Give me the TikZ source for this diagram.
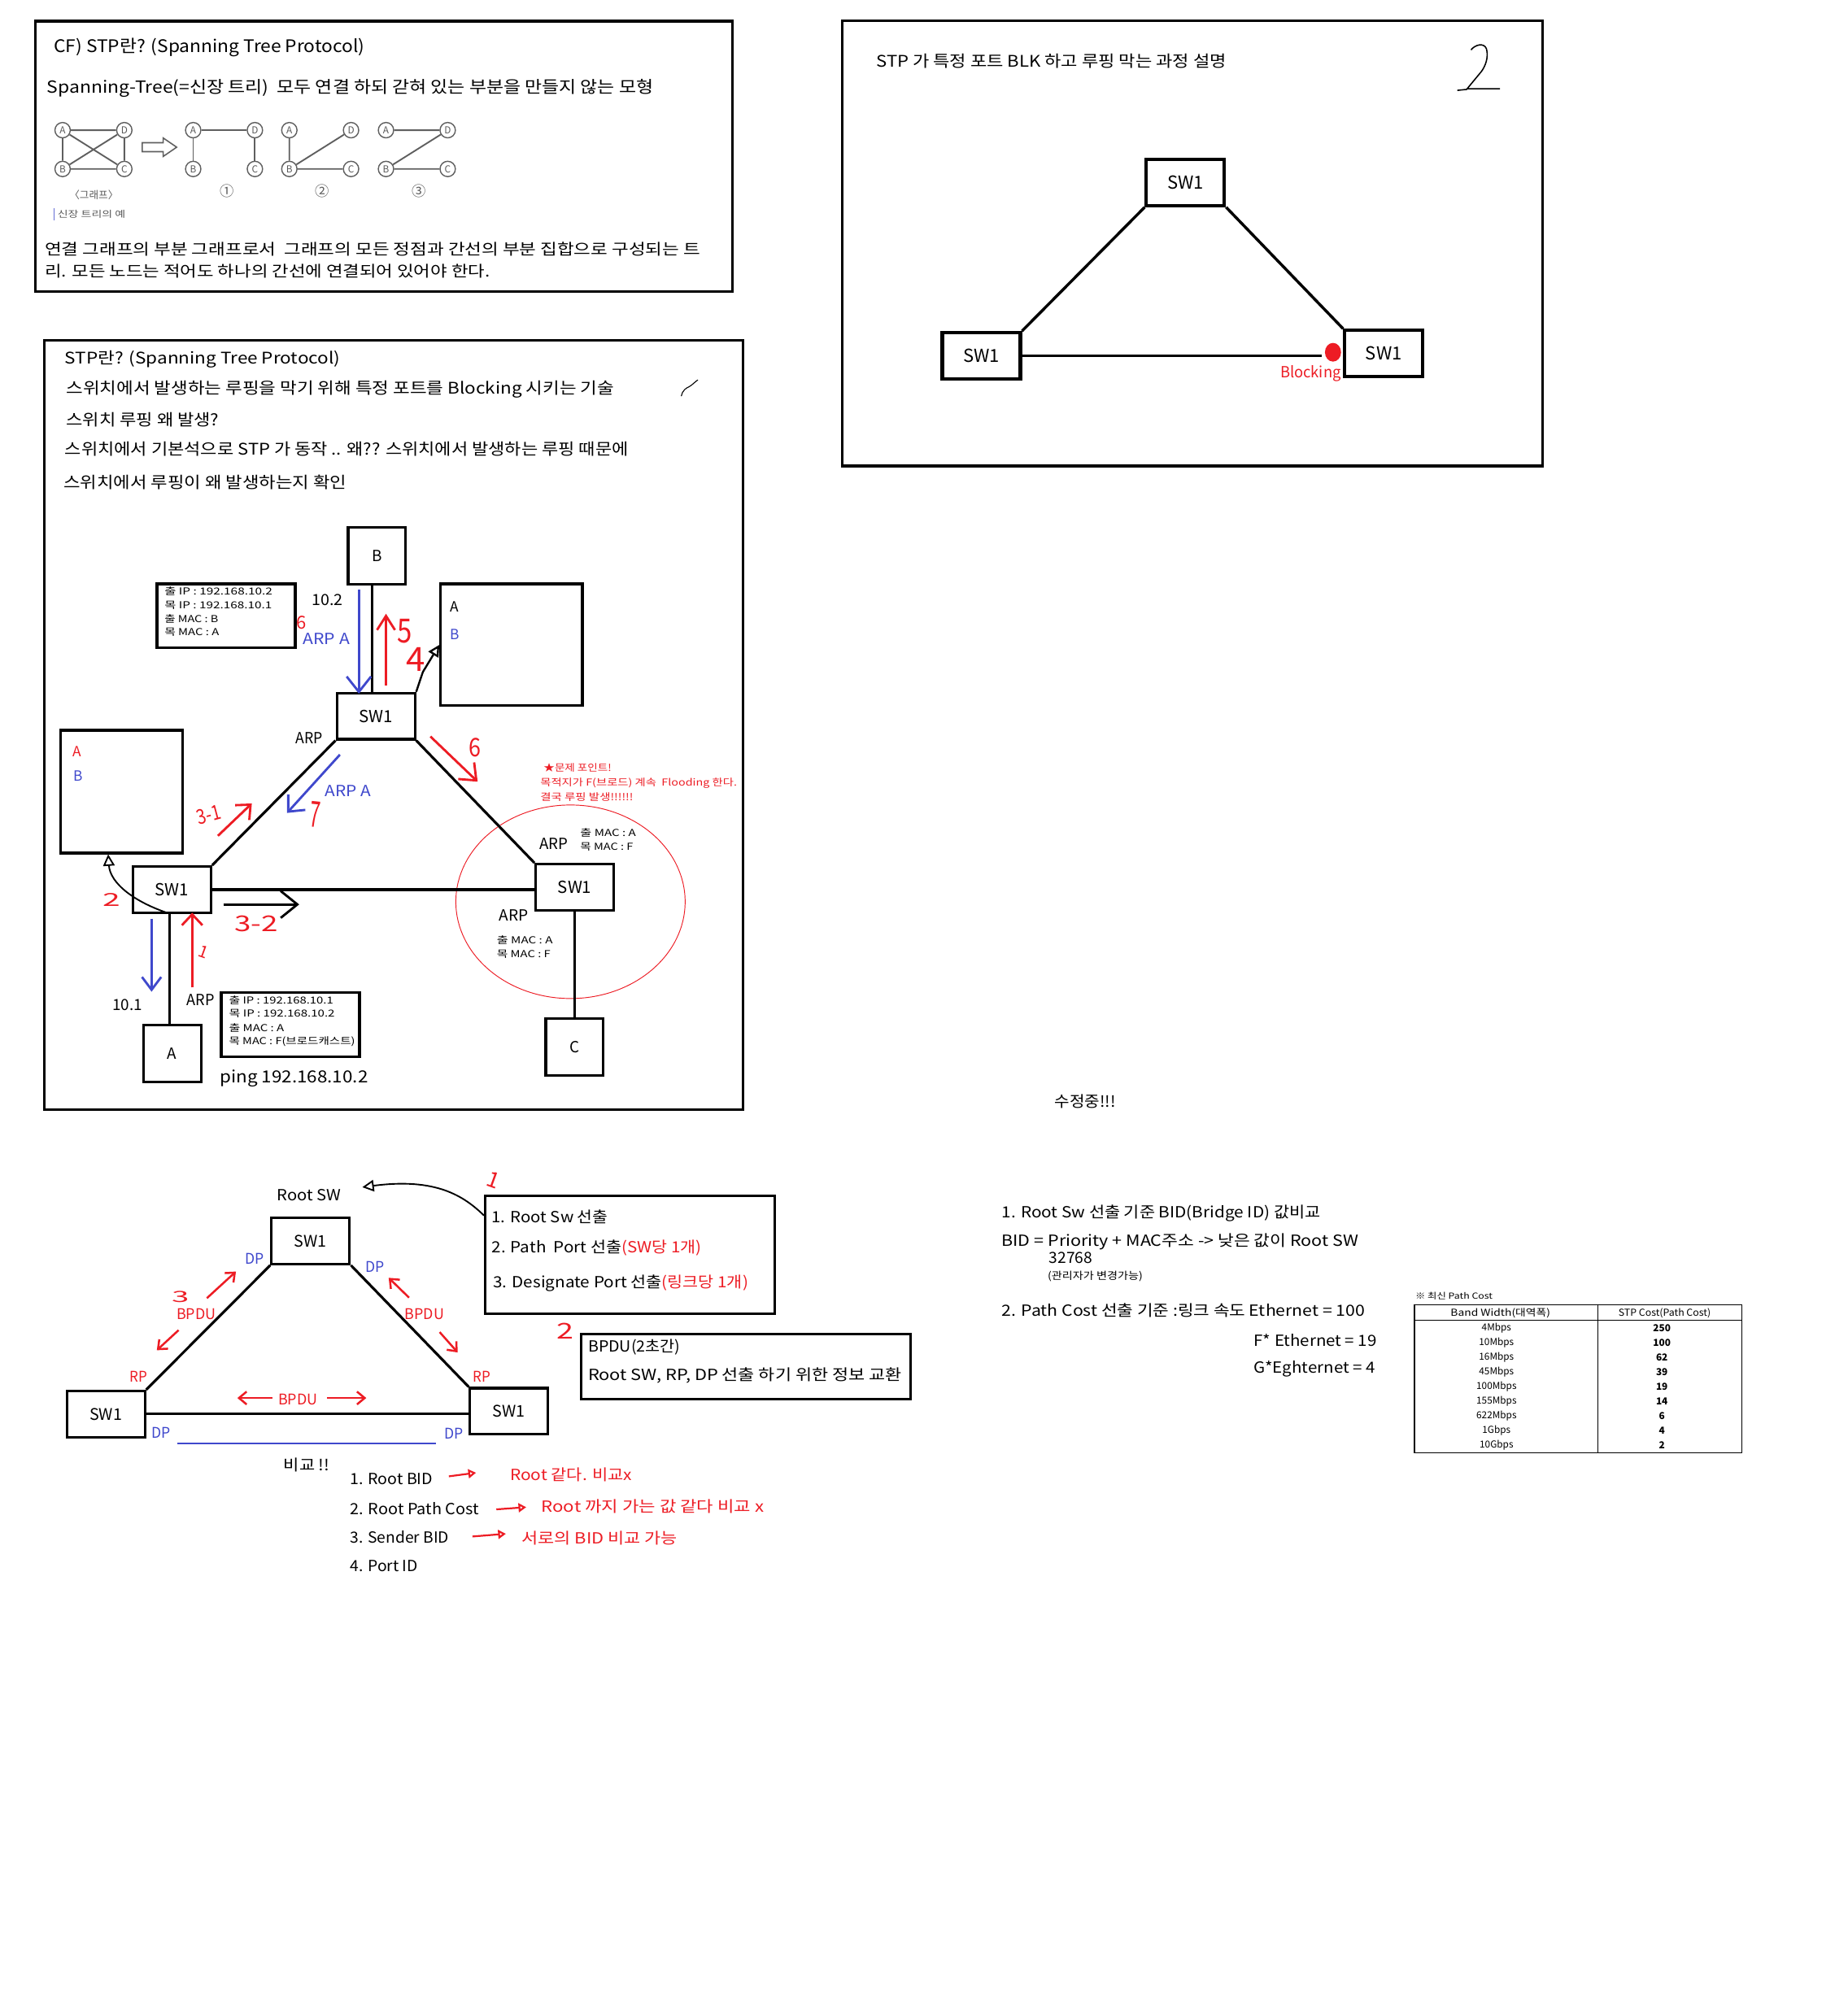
\documentclass[tikz,border=0pt]{standalone}
\usepackage{fontspec}
\setmainfont{Noto Sans CJK KR}
\usepackage{graphicx}
\usetikzlibrary{arrows.meta,shapes.geometric,calc}
\definecolor{myred}{RGB}{237,28,36}
\definecolor{myblue}{RGB}{63,72,204}
\definecolor{gline}{RGB}{95,95,95}
\definecolor{gtext}{RGB}{90,90,90}
\newcommand{\fs}[1]{\fontsize{#1}{#1}\selectfont}
\newcommand{\fw}[2]{\resizebox{#1pt}{\height}{#2}}
\begin{document}
\begin{tikzpicture}[x=1pt,y=-1pt,
  tx/.style={inner sep=0pt,anchor=west},
  ct/.style={inner sep=0pt,anchor=center},
  box/.style={draw,line width=2pt,inner sep=0pt},
  swa/.style={draw,line width=2.6pt,inner sep=0pt,minimum width=61pt,minimum height=36pt,font=\fs{14}},
  swc/.style={draw,line width=2pt,inner sep=0pt,minimum width=61pt,minimum height=36pt,font=\fs{13}},
  swd/.style={draw,line width=2pt,inner sep=0pt,minimum width=61pt,minimum height=36pt,font=\fs{12.5}},
  link/.style={line width=2pt},
  gnode/.style={circle,draw=gline,line width=0.9pt,fill=white,inner sep=0pt,minimum size=12pt,font=\fs{7.5},text=gtext},
  gedge/.style={gline,line width=1.2pt},
  rarr/.style={myred,line width=1.6pt,-{Straight Barb[length=6pt,width=10pt]}},
  barr/.style={myblue,line width=1.8pt,-{Straight Barb[length=10pt,width=17pt]}},
  harr/.style={line width=1.2pt,-{Triangle[open,length=9pt,width=9pt]}},
  tarr/.style={myred,line width=1.4pt,-{Triangle[open,length=6pt,width=7pt]}},
  rnum/.style={inner sep=0pt,anchor=center,text=myred},
]
\fill[white] (0,0) rectangle (1443,1568);
\useasboundingbox (0,0) rectangle (1443,1568);

% ================= Box 1 =================
\node[box,minimum width=544.4pt,minimum height=211pt] (f1) at (300.1,122) {};
\node[tx,font=\fs{13.5}] (t1) at (41.9,37.1) {\fw{242.8}{CF) STP란? (Spanning Tree Protocol)}};
\node[tx,font=\fs{13}] (t2) at (36.6,68.9) {\fw{473.5}{Spanning-Tree(=신장 트리)~~모두 연결 하되 갇혀 있는 부분을 만들지 않는 모형}};
\node[tx,font=\fs{12}] (t3) at (34.9,194.9) {\fw{511.9}{연결 그래프의 부분 그래프로서~~그래프의 모든 정점과 간선의 부분 집합으로 구성되는 트}};
\node[tx,font=\fs{12}] (t4) at (34.9,211.9) {\fw{347.6}{리. 모든 노드는 적어도 하나의 간선에 연결되어 있어야 한다.}};

\foreach \gx/\gi in {48.9/0,150.9/1,226/2,301.5/3}{
  \node[gnode] (gA\gi) at (\gx,101.7) {A};
  \node[gnode] (gD\gi) at (\gx+48.2,101.7) {D};
  \node[gnode] (gB\gi) at (\gx,132) {B};
  \node[gnode] (gC\gi) at (\gx+48.2,132) {C};
}
\draw[gedge] (gA0)--(gD0) (gB0)--(gC0) (gA0)--(gB0) (gD0)--(gC0) (gA0)--(gC0) (gB0)--(gD0);
\draw[gedge] (gA1)--(gD1) (gA1)--(gB1) (gD1)--(gC1);
\draw[gedge] (gA2)--(gB2) (gB2)--(gD2) (gB2)--(gC2);
\draw[gedge] (gA3)--(gD3) (gB3)--(gD3) (gB3)--(gC3);
\draw[gline,line width=1pt] (111.1,111.5) -- (127.5,111.5) -- (127.5,107.8) -- (138,115) -- (127.5,122.2) -- (127.5,118.5) -- (111.1,118.5) -- cycle;
\node[ct,font=\fs{8},text=gtext] (gl0) at (73.3,152.5) {〈그래프〉};
\node[ct,font=\fs{11},text=gtext] (gl1) at (177.5,149.4) {①};
\node[ct,font=\fs{11},text=gtext] (gl2) at (251.5,149.4) {②};
\node[ct,font=\fs{11},text=gtext] (gl3) at (327.3,149.4) {③};
\draw[myblue!80,line width=1pt] (42.3,162.8) -- (42.3,172);
\node[tx,font=\fs{7},text=gtext] (gl4) at (44.8,167.4) {\fw{53}{신장 트리의 예}};

% ================= Box 2 =================
\node[box,minimum width=547pt,minimum height=348pt] (f2) at (931.5,190) {};
\node[tx,font=\fs{12.5}] (t5) at (684.3,47.5) {\fw{273.5}{STP 가 특정 포트 BLK 하고 루핑 막는 과정 설명}};
\draw[line width=1pt] (1149,39) .. controls (1152,35) and (1159,33) .. (1161,38) .. controls (1163,45) and (1160,52) .. (1157,56) -- (1146,69.3) -- (1171.6,69.3);
\draw[line width=1pt] (1138.3,70.6) -- (1146,69.8);
\node[swa] (s2t) at (925.9,142.6) {SW1};
\node[swa] (s2l) at (766.5,277.9) {SW1};
\node[swa] (s2r) at (1080.9,276.1) {SW1};
\node[fill=myred,ellipse,minimum width=12.6pt,minimum height=14.6pt,inner sep=0pt] (dot) at (1041.2,275.2) {};
\draw[line width=2.2pt] (s2t.south west) -- (s2l.north east);
\draw[line width=2.2pt] (s2t.south east) -- (s2r.north west);
\draw[line width=2.2pt] (s2l.east) -- ([xshift=-2pt]s2l.east -| dot.west);
\node[tx,font=\fs{12},text=myred] (t6) at (999.8,292) {\fw{47.4}{Blocking}};

% ================= Box 3 =================
\node[box,minimum width=545.3pt,minimum height=600.9pt] (f3) at (307.45,566.45) {};
\node[tx,font=\fs{12.5}] (t7) at (50.6,281) {\fw{215}{STP란? (Spanning Tree Protocol)}};
\node[tx,font=\fs{12.5}] (t8) at (51.5,304) {\fw{428}{스위치에서 발생하는 루핑을 막기 위해 특정 포트를 Blocking 시키는 기술}};
\node[tx,font=\fs{12.5}] (t9) at (51.5,328) {\fw{119.5}{스위치 루핑 왜 발생?}};
\node[tx,font=\fs{12.5}] (t10) at (50.6,351) {\fw{440}{스위치에서 기본석으로 STP 가 동작 .. 왜?? 스위치에서 발생하는 루핑 때문에}};
\node[tx,font=\fs{12.5}] (t11) at (49.5,377) {\fw{221}{스위치에서 루핑이 왜 발생하는지 확인}};
\draw[line width=0.7pt] (532.1,309.5) .. controls (533,305) and (536,303) .. (538.5,302) .. controls (541,300.5) and (542,299) .. (545.1,296.8);

\node[draw=myred,ellipse,line width=0.6pt,minimum width=179.1pt,minimum height=151.2pt,inner sep=0pt] (ell) at (445.6,704.5) {};

\node[box,minimum width=45pt,minimum height=44.5pt,font=\fs{12}] (bB) at (294.4,434) {B};
\node[swc] (s3t) at (293.6,559.5) {SW1};
\node[box,minimum width=110.7pt,minimum height=95.2pt] (ab1) at (399.5,503.8) {};
\node[box,minimum width=95.2pt,minimum height=95.9pt] (ab2) at (95.1,618.5) {};
\node[swc] (s3l) at (134.2,695) {SW1};
\node[swc] (s3r) at (448.9,693.1) {SW1};
\node[box,minimum width=45pt,minimum height=44.4pt,font=\fs{12}] (bA) at (134.5,823.1) {A};
\node[box,minimum width=45pt,minimum height=44.4pt,font=\fs{12}] (bC) at (448.8,818.2) {C};
\node[box,minimum width=108pt,minimum height=49.7pt] (inf1) at (176.6,481) {};
\node[box,minimum width=108pt,minimum height=50.2pt] (inf2) at (226.8,800.5) {};

\draw[link] ([xshift=-3.5pt]bB.south) -- ([xshift=-3.5pt]bB.south |- s3t.north);
\draw[link] (s3t.south west) -- (s3l.north east);
\draw[link] (s3t.south east) -- (s3r.north west);
\draw[link] (s3l.east) -- (s3l.east -| s3r.west);
\draw[link] ([xshift=-1.5pt]s3l.south) -- ([xshift=-1.5pt]s3l.south |- bA.north);
\draw[link] (s3r.south) -- (s3r.south |- bC.north);
\draw[harr,line width=1.5pt] (s3t.north east) -- (330.3,525) -- (ab1.west);
\draw[harr] ([xshift=-1pt]s3l.south) .. controls (105,705) and (86,690) .. ([xshift=-10.6pt]ab2.south);

% info boxes
\node[tx,font=\fs{7.5}] (i11) at (128.3,461.9) {\fw{84.3}{출 IP : 192.168.10.2}};
\node[tx,font=\fs{7.5}] (i12) at (128.3,473) {\fw{83.9}{목 IP : 192.168.10.1}};
\node[tx,font=\fs{7.5}] (i13) at (128.3,483.3) {\fw{42}{출 MAC : B}};
\node[tx,font=\fs{7.5}] (i14) at (128.3,493.9) {\fw{42.6}{목 MAC : A}};
\node[tx,font=\fs{7.5}] (i21) at (178.7,781.2) {\fw{81.5}{출 IP : 192.168.10.1}};
\node[tx,font=\fs{7.5}] (i22) at (178.7,791.8) {\fw{82.6}{목 IP : 192.168.10.2}};
\node[tx,font=\fs{7.5}] (i23) at (178.7,802.9) {\fw{43}{출 MAC : A}};
\node[tx,font=\fs{7.5}] (i24) at (178.7,813.6) {\fw{98.5}{목 MAC : F(브로드캐스트)}};

% labels in box 3
\node[tx,font=\fs{12}] (l1) at (243.3,468.9) {\fw{24.3}{10.2}};
\node[tx,font=\fs{12},text=myblue] (l2) at (236.5,499) {\fw{36.4}{ARP A}};
\node[tx,font=\fs{12}] (l3) at (230.6,576.9) {\fw{21.1}{ARP}};
\node[tx,font=\fs{12},text=myblue] (l4) at (253.9,618.1) {\fw{35.9}{ARP A}};
\node[ct,font=\fs{11}] (l5) at (355.1,473.8) {A};
\node[ct,font=\fs{11},text=myblue] (l6) at (355.3,495.8) {B};
\node[ct,font=\fs{11},text=myred] (l7) at (60.2,587.4) {A};
\node[ct,font=\fs{11},text=myblue] (l8) at (60.8,606.5) {B};
\node[tx,font=\fs{7.5},text=myred] (l9) at (424.5,600.1) {\fw{52.9}{★문제 포인트!}};
\node[tx,font=\fs{7.5},text=myred] (l10) at (421.9,611.8) {\fw{153.5}{목적지가 F(브로드) 계속~~Flooding 한다.}};
\node[tx,font=\fs{7.5},text=myred] (l11) at (421.9,622.4) {\fw{72.5}{결국 루핑 발생!!!!!!}};
\node[tx,font=\fs{12}] (l12) at (421.3,659.4) {\fw{22.3}{ARP}};
\node[tx,font=\fs{7.5}] (l13) at (453.1,650.6) {\fw{43.4}{출 MAC : A}};
\node[tx,font=\fs{7.5}] (l14) at (453.1,661.6) {\fw{41.3}{목 MAC : F}};
\node[tx,font=\fs{12}] (l15) at (389.6,715) {\fw{22.8}{ARP}};
\node[tx,font=\fs{7.5}] (l16) at (387.9,734.2) {\fw{43.6}{출 MAC : A}};
\node[tx,font=\fs{7.5}] (l17) at (387.9,745.2) {\fw{41.9}{목 MAC : F}};
\node[tx,font=\fs{12}] (l18) at (87.7,785.4) {\fw{23.3}{10.1}};
\node[tx,font=\fs{12}] (l19) at (145.9,781.2) {\fw{21.6}{ARP}};
\node[tx,font=\fs{13}] (l20) at (171.7,842.6) {\fw{115.6}{ping 192.168.10.2}};

% red numbers
\node[rnum,font=\fs{14}] (n6a) at (235.5,486.3) {6};
\node[rnum,font=\fs{26}] (n5) at (316,493) {\fw{11.6}{5}};
\node[rnum,font=\fs{26}] (n4) at (325,515) {\fw{14.8}{4}};
\node[rnum,font=\fs{28},rotate=-6] (n7) at (246,636.6) {\fw{8}{7}};
\node[rnum,font=\fs{16},rotate=15] (n31) at (163,636.5) {\fw{19}{3-1}};
\node[rnum,font=\fs{20}] (n6b) at (371,584.3) {\fw{9.5}{6}};
\node[rnum,font=\fs{17}] (n32) at (200,722) {\fw{34}{3-2}};
\node[rnum,font=\fs{14}] (n2a) at (87,702.8) {\fw{13.7}{2}};
\node[rnum,font=\fs{13},rotate=-20] (n1a) at (159,744) {1};

% arrows in box 3
\coordinate (ba1s) at (280.3,460.4); \coordinate (ba1e) at (280.3,542);
\coordinate (ra1s) at (301.5,535.6); \coordinate (ra1e) at (301.5,479.5);
\coordinate (ba2s) at (265.5,589.6); \coordinate (ba2e) at (224.2,635.1);
\coordinate (ra2s) at (170.2,653); \coordinate (ra2e) at (196.7,627.7);
\coordinate (ra3s) at (336.2,575.4); \coordinate (ra3e) at (373.1,610.7);
\coordinate (ka1s) at (174.5,706.6); \coordinate (ka1e) at (233.7,706.6);
\coordinate (ba3s) at (118.4,717.7); \coordinate (ba3e) at (118.4,774.8);
\coordinate (ra4s) at (150.1,771.6); \coordinate (ra4e) at (150.1,713);
\draw[barr,-{Straight Barb[length=12pt,width=19pt]}] (ba1s) -- (ba1e);
\draw[rarr,line width=1.8pt,-{Straight Barb[length=11pt,width=14pt]}] (ra1s) -- (ra1e);
\draw[barr,-{Straight Barb[length=10pt,width=18pt]}] (ba2s) -- (ba2e);
\draw[rarr,line width=1.8pt,-{Straight Barb[length=9pt,width=16pt]}] (ra2s) -- (ra2e);
\draw[rarr,line width=1.8pt,-{Straight Barb[length=11pt,width=18pt]}] (ra3s) -- (ra3e);
\draw[line width=1.8pt,-{Straight Barb[length=13pt,width=21pt]}] (ka1s) -- (ka1e);
\draw[barr,-{Straight Barb[length=10pt,width=15pt]}] (ba3s) -- (ba3e);
\draw[rarr,line width=1.8pt,-{Straight Barb[length=8.5pt,width=16pt]}] (ra4s) -- (ra4e);

% ================= Bottom left =================
\node[tx,font=\fs{12}] (r0) at (216.1,933.7) {\fw{50}{Root SW}};
\node[swd] (s4t) at (242.6,969.5) {SW1};
\node[swd] (s4l) at (82.7,1104.7) {SW1};
\node[swd] (s4r) at (397.6,1102.5) {SW1};
\draw[link] (s4t.south west) -- (s4l.north east);
\draw[link] (s4t.south east) -- (s4r.north west);
\draw[link] (s4l.east) -- (s4l.east -| s4r.west);
\coordinate (bl1) at (138.7,1127.8); \coordinate (bl2) at (340.4,1127.8);
\draw[myblue,line width=1pt] (bl1) -- (bl2);
\node[tx,font=\fs{11.5},text=myblue] (d1) at (191.1,983.5) {\fw{14.8}{DP}};
\node[tx,font=\fs{11.5},text=myblue] (d2) at (285.4,989.8) {\fw{14.8}{DP}};
\node[tx,font=\fs{11.5},text=myblue] (d3) at (118.4,1119.1) {\fw{14.8}{DP}};
\node[tx,font=\fs{11.5},text=myblue] (d4) at (346.8,1120.1) {\fw{14.8}{DP}};
\node[tx,font=\fs{11.5},text=myred] (p1) at (101.3,1075.6) {\fw{13.7}{RP}};
\node[tx,font=\fs{11.5},text=myred] (p2) at (369.5,1075.6) {\fw{13.7}{RP}};
\node[tx,font=\fs{11.5},text=myred] (u1) at (137.7,1026.9) {\fw{30.7}{BPDU}};
\node[tx,font=\fs{11.5},text=myred] (u2) at (316.1,1026.5) {\fw{30.7}{BPDU}};
\node[tx,font=\fs{11.5},text=myred] (u3) at (217.2,1093.6) {\fw{30.7}{BPDU}};
\node[rnum,font=\fs{12}] (n3b) at (141,1013.5) {\fw{13.5}{3}};
\coordinate (q1s) at (161.6,1014.2); \coordinate (q1e) at (184.3,993.4);
\coordinate (q2s) at (139.5,1039.2); \coordinate (q2e) at (122.5,1054.9);
\coordinate (q3s) at (319.5,1013.8); \coordinate (q3e) at (303.6,998.3);
\coordinate (q4s) at (343.4,1040.7); \coordinate (q4e) at (357.5,1056.6);
\coordinate (q5s) at (212.7,1092.2); \coordinate (q5e) at (185.4,1092.2);
\coordinate (q6s) at (255.4,1092.2); \coordinate (q6e) at (286.1,1092.2);
\draw[rarr] (q1s) -- (q1e);
\draw[rarr] (q2s) -- (q2e);
\draw[rarr] (q3s) -- (q3e);
\draw[rarr] (q4s) -- (q4e);
\draw[rarr] (q5s) -- (q5e);
\draw[rarr] (q6s) -- (q6e);

\node[box,minimum width=226.4pt,minimum height=92pt] (b1) at (492.2,980.3) {};
\node[box,minimum width=257.3pt,minimum height=50.6pt] (b2) at (582.4,1067.7) {};
\coordinate (rsa) at (283,927.5);
\draw[harr] ([yshift=-16.3pt]b1.north west) .. controls (362,934) and (340,920) .. (rsa);
\node[rnum,font=\fs{17},rotate=-20] (n1b) at (385.6,922) {1};
\node[rnum,font=\fs{17}] (n2b) at (441.5,1039.6) {\fw{13.3}{2}};
\node[tx,font=\fs{12}] (b11) at (383.9,950.6) {\fw{90.8}{1. Root Sw 선출}};
\node[tx,font=\fs{12}] (b12) at (383.9,975) {\fw{163.9}{2. Path~~Port 선출\textcolor{myred}{(SW당 1개)}}};
\node[tx,font=\fs{12}] (b13) at (385,1002.5) {\fw{199.3}{3. Designate Port 선출\textcolor{myred}{(링크당 1개)}}};
\node[tx,font=\fs{12}] (b21) at (459.2,1052.3) {\fw{72}{BPDU(2초간)}};
\node[tx,font=\fs{12}] (b22) at (459.2,1074.6) {\fw{244.8}{Root SW, RP, DP 선출 하기 위한 정보 교환}};

\node[tx,font=\fs{12}] (c0) at (221.4,1144.3) {\fw{36}{비교 !!}};
\node[tx,font=\fs{12}] (c1) at (273.3,1155.5) {\fw{64.6}{1. Root BID}};
\node[tx,font=\fs{12}] (c2) at (273.3,1178.6) {\fw{100.6}{2. Root Path Cost}};
\node[tx,font=\fs{12}] (c3) at (273.3,1201.1) {\fw{77.3}{3. Sender BID}};
\node[tx,font=\fs{12}] (c4) at (273.3,1223.7) {\fw{52.9}{4. Port ID}};
\node[tx,font=\fs{12},text=myred] (e1) at (398.3,1151.9) {\fw{95.2}{Root 같다. 비교x}};
\node[tx,font=\fs{12},text=myred] (e2) at (422.7,1176.7) {\fw{173.8}{Root 까지 가는 값 같다 비교 x}};
\node[tx,font=\fs{12},text=myred] (e3) at (407.2,1201.7) {\fw{121.8}{서로의 BID 비교 가능}};
\coordinate (w1s) at (350.6,1153.4); \coordinate (w1e) at (371.8,1150.6);
\coordinate (w2s) at (387.7,1179.2); \coordinate (w2e) at (411,1177.5);
\coordinate (w3s) at (369,1200.4); \coordinate (w3e) at (395.1,1198.3);
\draw[tarr] (w1s) -- (w1e);
\draw[tarr] (w2s) -- (w2e);
\draw[tarr] (w3s) -- (w3e);

% ================= Bottom right =================
\node[tx,font=\fs{12}] (m0) at (823.5,860.6) {\fw{47.7}{수정중!!!}};
\node[tx,font=\fs{12}] (m1) at (782.2,947.9) {\fw{249}{1. Root Sw 선출 기준 BID(Bridge ID) 값비교}};
\node[tx,font=\fs{12}] (m2) at (782.2,970.3) {\fw{278.6}{BID = Priority + MAC주소 -> 낮은 값이 Root SW}};
\node[tx,font=\fs{12}] (m3) at (819.3,982.8) {\fw{33.9}{32768}};
\node[tx,font=\fs{8}] (m4) at (818.2,997.2) {\fw{74.2}{(관리자가 변경가능)}};
\node[tx,font=\fs{12}] (m5) at (782.2,1023.7) {\fw{283.9}{2. Path Cost 선출 기준 :링크 속도 Ethernet = 100}};
\node[tx,font=\fs{12}] (m6) at (979.2,1047) {\fw{96}{F* Ethernet = 19}};
\node[tx,font=\fs{12}] (m7) at (979.2,1069.7) {\fw{94.8}{G*Eghternet = 4}};

% table
\node[tx,font=\fs{6.5}] (k0) at (1105.3,1012.4) {\fw{60.4}{※ 최신 Path Cost}};
\node[draw,line width=1pt,inner sep=0pt,minimum width=255.9pt,minimum height=115.5pt] (tbl) at (1232.65,1077.15) {};
\draw[line width=0.8pt] ([yshift=-12.7pt]tbl.north west) -- ([yshift=-12.7pt]tbl.north east);
\draw[line width=0.8pt] ([xshift=144pt]tbl.north west) -- ([xshift=144pt]tbl.south west);
\node[ct,font=\fs{7.5}] (h1) at (1172,1025.7) {\fw{77.8}{Band Width(대역폭)}};
\node[ct,font=\fs{7.5}] (h2) at (1300.2,1025.7) {\fw{72}{STP Cost(Path Cost)}};
\foreach \bw/\sc/\ry [count=\ri] in {4Mbps/250/1037.4,10Mbps/100/1049,16Mbps/62/1060.7,45Mbps/39/1071.9,100Mbps/19/1083.4,155Mbps/14/1095,622Mbps/6/1106.5,1Gbps/4/1117.9,10Gbps/2/1129.1}{
  \node[ct,font=\fs{7.5}] (ka\ri) at (1168.9,\ry) {\bw};
  \node[ct,font=\fs{7.5}\bfseries] (kb\ri) at (1298.1,\ry) {\sc};
}
\end{tikzpicture}
\end{document}
